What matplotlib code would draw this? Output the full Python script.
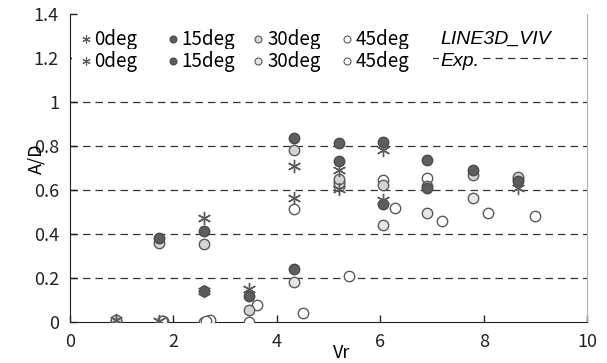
"""A/D vs reduced velocity Vr: LINE3D_VIV calculation vs experiment, by inflow angle."""
import matplotlib
matplotlib.use("Agg")
import matplotlib.pyplot as plt
from matplotlib.patches import Rectangle

plt.rcParams["font.family"] = ["Noto Sans CJK JP", "DejaVu Sans"]

ANGLES = ["0deg", "15deg", "30deg", "45deg"]

# LINE3D_VIV results
calc_vr = {
    "0deg": [0.89, 1.73, 2.60, 3.46, 4.34, 5.20, 6.05, 8.67],
    "15deg": [1.73, 2.60, 3.46, 4.34, 5.20, 6.05, 6.90, 7.80, 8.67],
    "30deg": [0.89, 1.73, 2.60, 3.46, 4.34, 5.20, 6.05, 6.90, 7.80, 8.67],
    "45deg": [0.89, 1.77, 2.63, 3.46, 4.34, 5.20, 6.05, 6.90, 8.67],
}
calc_ad = {
    "0deg": [0.010, 0.005, 0.474, 0.149, 0.709, 0.690, 0.780, 0.608],
    "15deg": [0.380, 0.414, 0.120, 0.835, 0.815, 0.820, 0.736, 0.690, 0.640],
    "30deg": [0.008, 0.357, 0.353, 0.055, 0.780, 0.650, 0.625, 0.620, 0.668, 0.658],
    "45deg": [0.005, 0.005, 0.003, 0.000, 0.512, 0.640, 0.648, 0.656, 0.650],
}

# experiment
exp_vr = {
    "0deg": [2.60, 4.34, 5.20, 6.05],
    "15deg": [2.60, 4.34, 5.20, 6.05, 6.90],
    "30deg": [4.34, 5.20, 6.05, 6.90, 7.80],
    "45deg": [1.80, 2.60, 2.71, 3.61, 4.51, 5.20, 5.40, 6.29, 7.19, 8.09, 9.00],
}
exp_ad = {
    "0deg": [0.140, 0.565, 0.603, 0.555],
    "15deg": [0.140, 0.242, 0.733, 0.535, 0.610],
    "30deg": [0.182, 0.630, 0.440, 0.494, 0.562],
    "45deg": [0.005, 0.000, 0.010, 0.077, 0.040, 0.620, 0.209, 0.520, 0.459, 0.497, 0.483],
}

EDGE = "#5a5a5a"
STYLE_CALC = {
    "0deg": dict(marker=(6, 2, 0), color=EDGE, mfc="none"),
    "15deg": dict(marker="o", mfc="#5e5e5e", mec="#4a4a4a"),
    "30deg": dict(marker="o", mfc="#d4d4d4", mec=EDGE),
    "45deg": dict(marker="o", mfc="white", mec=EDGE),
}
STYLE_EXP = dict(STYLE_CALC)
STYLE_EXP["30deg"] = dict(marker="o", mfc="#e6e6e6", mec=EDGE)

fig = plt.figure(figsize=(6.07, 3.63), dpi=100)
ax = fig.add_axes([0.1153, 0.113, 0.852, 0.848])

for y in [0.2, 0.4, 0.6, 0.8, 1.0, 1.2]:
    ax.axhline(y, color="#333333", lw=0.9, ls=(0, (6, 4)), zorder=1)

for ang in ["45deg", "30deg", "15deg", "0deg"]:
    ms = 9.5 if ang == "0deg" else 7.5
    ax.plot(exp_vr[ang], exp_ad[ang], ls="none", ms=ms, mew=1.0, zorder=3, **STYLE_EXP[ang])
    ax.plot(calc_vr[ang], calc_ad[ang], ls="none", ms=ms, mew=1.0, zorder=3, **STYLE_CALC[ang])

ax.set_xlim(0, 10)
ax.set_ylim(0, 1.4)
ax.set_xticks([0, 2, 4, 6, 8, 10])
ax.set_yticks([0, 0.2, 0.4, 0.6, 0.8, 1.0, 1.2, 1.4])
ax.set_yticklabels(["0", "0.2", "0.4", "0.6", "0.8", "1", "1.2", "1.4"])
ax.tick_params(direction="in", length=5, width=1, labelsize=13, pad=8, colors="#222222")
ax.spines["top"].set_visible(False)
ax.spines["right"].set_color("#b0b0b0")
for s in ["left", "bottom"]:
    ax.spines[s].set_color("#222222")

ax.set_xlabel("Vr", fontsize=13)
ax.xaxis.set_label_coords(0.526, -0.07)
ax.set_ylabel("A/D", fontsize=13)
ax.yaxis.set_label_coords(-0.047, 0.53)

# two-row key: calculation on top, experiment below
mark_x = [0.031, 0.199, 0.364, 0.536]
text_x = [0.047, 0.216, 0.382, 0.553]
rows = [(0.918, STYLE_CALC, "LINE3D_VIV"), (0.847, STYLE_EXP, "Exp.")]
# white band under the experiment row hides the 1.2 gridline there
ax.add_patch(Rectangle((0.003, 0.822), 0.69, 0.05, transform=ax.transAxes,
                       fc="white", ec="none", zorder=2))
for y, styles, tag in rows:
    for ang, mx, tx in zip(ANGLES, mark_x, text_x):
        ax.text(tx, y, ang, transform=ax.transAxes, fontsize=13.5, va="center", ha="left",
                bbox=dict(fc="white", ec="none", pad=1.0), zorder=4)
        ms = 6 if ang == "0deg" else 5
        ax.plot([mx], [y], transform=ax.transAxes, ls="none", ms=ms, mew=0.8, zorder=5,
                clip_on=False, **styles[ang])
    ax.text(0.716, y, tag, transform=ax.transAxes, fontsize=14, va="center", ha="left",
            family="Liberation Sans", style="italic",
            bbox=dict(fc="white", ec="none", pad=1.0), zorder=4)

fig.savefig("out.png", dpi=100)
